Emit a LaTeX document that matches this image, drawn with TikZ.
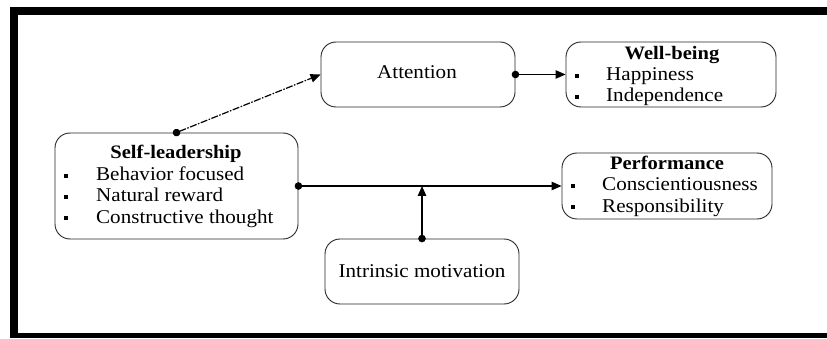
\documentclass[tikz,border=0pt]{standalone}
\usepackage{fontspec}
\setmainfont{Liberation Serif}[FakeStretch=1.08]
\usetikzlibrary{arrows.meta}
\begin{document}
\begin{tikzpicture}[x=1pt,y=-1pt,
  box/.style={draw=black!85, line width=0.9pt, rounded corners=15pt, inner sep=0pt},
  txt/.style={inner sep=0pt, anchor=base west, font=\fontsize{19.5}{21.5}\selectfont},
  ttl/.style={inner sep=0pt, anchor=base, font=\fontsize{19}{21.5}\selectfont\bfseries},
  bul/.style={fill=black, inner sep=0pt, minimum width=4.2pt, minimum height=4.6pt},
  conn/.style={line width=1.2pt, {Circle[length=7.5pt]}-{Triangle[length=10pt,width=8.5pt]}, shorten <=-3.75pt}
]
\useasboundingbox (0,0) rectangle (827,339);
% frame
\fill (10,7) rectangle (827,15);
\fill (10,7) rectangle (18,338);
\fill (10,333) rectangle (827,338);
% boxes
\node[box, minimum width=243pt, minimum height=106pt] (sl) at (176.5,186) {};
\node[box, minimum width=194pt, minimum height=65pt] (att) at (418,74.5) {};
\node[box, minimum width=210pt, minimum height=65pt] (wb) at (671,74.5) {};
\node[box, minimum width=210pt, minimum height=66pt] (perf) at (667,186) {};
\node[box, minimum width=194pt, minimum height=65pt] (im) at (422,271.5) {};
% texts
\node[txt, anchor=base] (attT) at (417,79) {Attention};
\node[txt, anchor=base] (imT) at (422,277) {Intrinsic motivation};
\node[ttl] (slT) at (176,159) {Self-leadership};
\node[txt] (sl1) at (96,181) {Behavior focused};
\node[txt] (sl2) at (96,202) {Natural reward};
\node[txt] (sl3) at (96,223) {Constructive thought};
\node[bul] (slb1) at (66,176) {};
\node[bul] (slb2) at (66,197) {};
\node[bul] (slb3) at (66,218) {};
\node[ttl] (wbT) at (672,60) {Well-being};
\node[txt] (wb1) at (606,81) {Happiness};
\node[txt] (wb2) at (606,102) {Independence};
\node[bul] (wbb1) at (577,76) {};
\node[bul] (wbb2) at (577,97) {};
\node[ttl] (pfT) at (667,170) {Performance};
\node[txt] (pf1) at (602,191) {Conscientiousness};
\node[txt] (pf2) at (602,212) {Responsibility};
\node[bul] (pfb1) at (573,186) {};
\node[bul] (pfb2) at (573,207) {};
% connectors
\draw[conn, dash pattern=on 7pt off 1.5pt on 1.5pt off 1.5pt] (sl.north) -- (att.west);
\draw[conn] (att.east) -- (wb.west);
\draw[conn] (sl.east) -- (perf.west);
\coordinate (mid) at (im.north |- sl.east);
\draw[conn] (im.north) -- (mid);
\end{tikzpicture}
\end{document}
